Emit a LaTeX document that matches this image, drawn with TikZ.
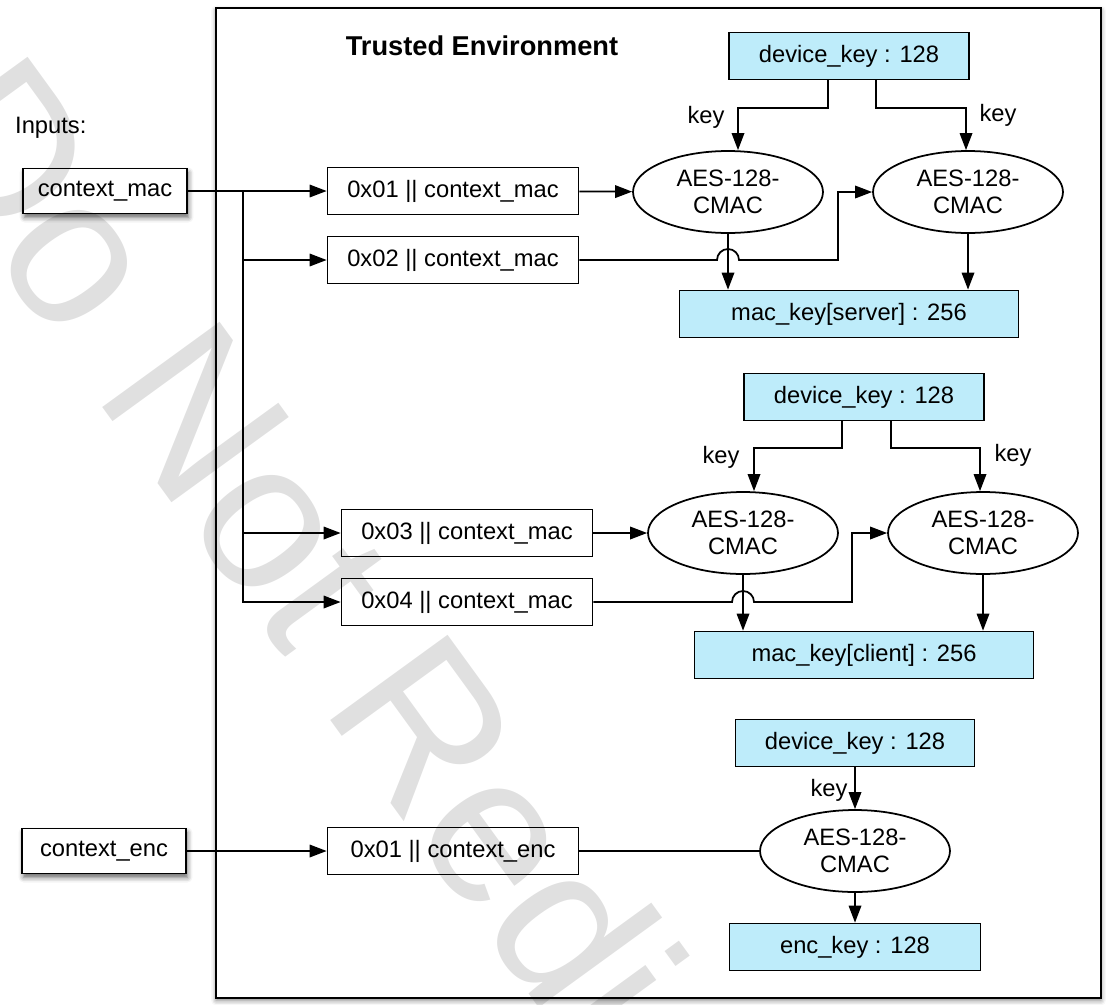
\documentclass[tikz,border=0pt]{standalone}
\usepackage{fontspec}
\setmainfont{Liberation Sans}
\usepackage{tikz}
\usetikzlibrary{shapes.geometric,arrows.meta,shadows.blur}
\definecolor{keyblue}{RGB}{190,236,250}
\tikzset{
  txt/.style={font=\fontsize{13.5}{15.5}\selectfont},
  inbox/.style={txt, draw, line width=1pt, fill=white, minimum width=5.02cm, minimum height=0.94cm, inner sep=0pt},
  srcbox/.style={inbox, minimum width=3.28cm, minimum height=0.9cm, blur shadow={shadow xshift=0.03cm, shadow yshift=-0.08cm, shadow blur radius=0.1cm, shadow opacity=60}},
  keybox/.style={inbox, fill=keyblue},
  cmac/.style={txt, draw, ellipse, line width=1pt, fill=white, minimum width=3.8cm, minimum height=1.64cm, inner sep=0pt, align=center},
  envbox/.style={draw, line width=1.4pt, fill=white, minimum width=17.7cm, minimum height=19.8cm, blur shadow={shadow xshift=0cm, shadow yshift=-0.05cm, shadow blur radius=0.1cm, shadow opacity=50}},
  arr/.style={line width=1pt, -{Triangle[length=0.34cm,width=0.25cm]}},
  wire/.style={line width=1pt},
}
\begin{document}
\begin{tikzpicture}[x=0.02cm, y=-0.02cm]
\useasboundingbox (0,0) rectangle (1112,1004);
\node[envbox] (env) at (658.5,503) {};
\node[font=\bfseries\fontsize{15.5}{18}\selectfont] (title) at (482,46) {Trusted Environment};
\node[txt, anchor=west] (inputs) at (9,128) {Inputs:};
\node[srcbox] (cmac) at (105,191) {context\_mac};
\node[srcbox] (cenc) at (104,851) {context\_enc};

\node[inbox] (p1) at (453,191) {0x01 || context\_mac};
\node[inbox] (p2) at (453,260) {0x02 || context\_mac};
\node[inbox] (p3) at (467,533) {0x03 || context\_mac};
\node[inbox] (p4) at (467,602) {0x04 || context\_mac};
\node[inbox] (p5) at (453,851) {0x01 || context\_enc};

\node[keybox, minimum width=4.8cm] (dk1) at (849,56) {device\_key : 128};
\node[cmac] (aes1) at (728,192) {AES-128-\\CMAC};
\node[cmac] (aes2) at (968,192) {AES-128-\\CMAC};
\node[keybox, minimum width=6.78cm] (mk1) at (849,314) {mac\_key[server] : 256};
\node[txt] (k1) at (706,117) {key};
\node[txt] (k2) at (998,115) {key};

\node[keybox, minimum width=4.8cm] (dk2) at (864,397) {device\_key : 128};
\node[cmac] (aes3) at (743,533) {AES-128-\\CMAC};
\node[cmac] (aes4) at (983,533) {AES-128-\\CMAC};
\node[keybox, minimum width=6.78cm] (mk2) at (864,655) {mac\_key[client] : 256};
\node[txt] (k3) at (721,457) {key};
\node[txt] (k4) at (1013,455) {key};

\node[keybox, minimum width=4.78cm] (dk3) at (855,743) {device\_key : 128};
\node[cmac] (aes5) at (855,851) {AES-128-\\CMAC};
\node[keybox] (ek) at (855,947) {enc\_key : 128};
\node[txt] (k5) at (829,790) {key};

\coordinate (br) at (243,191);
\draw[arr] (cmac) -- (p1);
\draw[arr] (br) |- (p2);
\draw[arr] (br) |- (p3);
\draw[arr] (br) |- (p4);
\draw[arr] (cenc) -- (p5);

\draw[arr] (p1) -- (aes1);
\draw[arr] ([xshift=-0.42cm]dk1.south) -- ++(0,-0.56cm) -| ([xshift=0.2cm]aes1.north);
\draw[arr] ([xshift=0.54cm]dk1.south) -- ++(0,-0.56cm) -| ([xshift=-0.04cm]aes2.north);
\draw[arr] (aes1) -- (aes1 |- mk1.north);
\draw[arr] (aes2) -- (aes2 |- mk1.north);
\draw[arr] (p2) -- (717,260) arc[start angle=180, end angle=0, radius=0.22cm] -- (838,260) |- (aes2);

\draw[arr] (p3) -- (aes3);
\draw[arr] ([xshift=-0.44cm]dk2.south) -- ++(0,-0.54cm) -| ([xshift=0.22cm]aes3.north);
\draw[arr] ([xshift=0.54cm]dk2.south) -- ++(0,-0.54cm) -| ([xshift=-0.06cm]aes4.north);
\draw[arr] (aes3) -- (aes3 |- mk2.north);
\draw[arr] (aes4) -- (aes4 |- mk2.north);
\draw[arr] (p4) -- (732,602) arc[start angle=180, end angle=0, radius=0.22cm] -- (852,602) |- (aes4);

\draw[arr] (dk3) -- (aes5);
\draw[wire] (p5) -- (aes5);
\draw[arr] (aes5) -- (ek);

\node[font=\fontsize{120}{140}\selectfont, text=black, text opacity=0.12, rotate=-54, anchor=base west, inner sep=0pt] (mark) at (-100,128) {Do Not Redistribute};
\end{tikzpicture}
\end{document}
